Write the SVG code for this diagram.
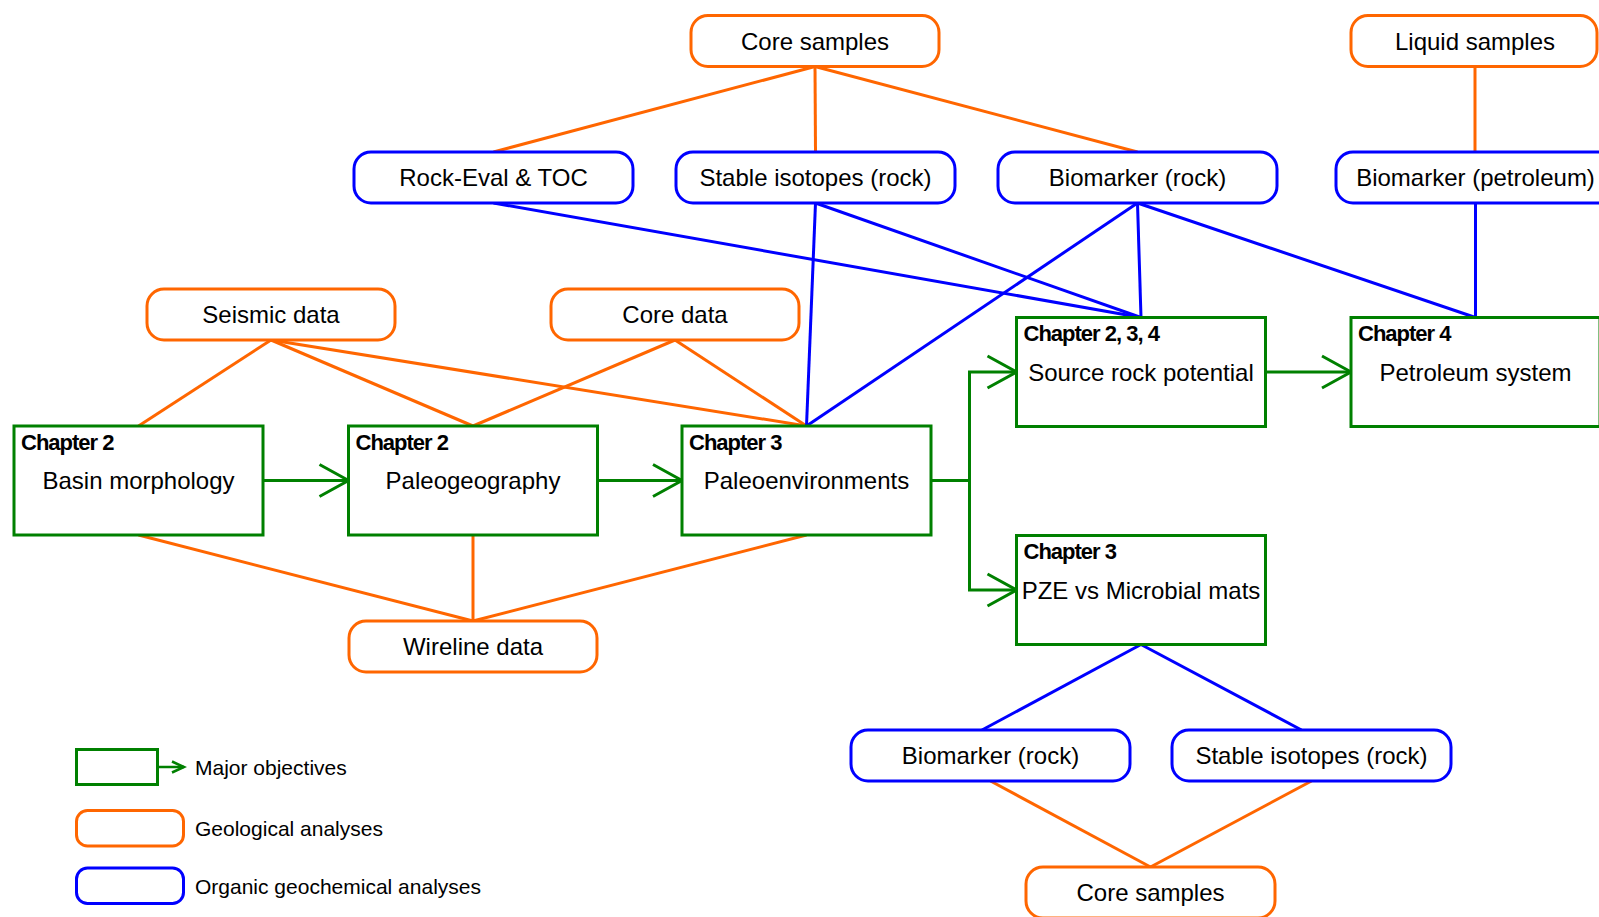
<svg xmlns="http://www.w3.org/2000/svg" width="1599" height="917" viewBox="0 0 1599 917">
<style>
.geo{fill:#fff;stroke:#FF6600;stroke-width:3}
.org{fill:#fff;stroke:#0000FF;stroke-width:3}
.obj{fill:#fff;stroke:#008000;stroke-width:3}
.lo{stroke:#FF6600;stroke-width:3;fill:none}
.lb{stroke:#0000FF;stroke-width:3;fill:none}
.lg{stroke:#008000;stroke-width:3;fill:none}
text{font-family:"Liberation Sans",Arial,sans-serif;fill:#000}
.t{font-size:24px;text-anchor:middle}
.ch{font-size:22px;font-weight:bold;letter-spacing:-1px}
.lt{font-size:21px}
</style>
<defs>
<marker id="av" markerUnits="userSpaceOnUse" markerWidth="34" markerHeight="38" viewBox="0 0 34 38" refX="30" refY="19" orient="auto" overflow="visible">
<path d="M1,3 L30,19 L1,35" fill="none" stroke="#008000" stroke-width="3"/>
</marker>
<marker id="avs" markerUnits="userSpaceOnUse" markerWidth="16" markerHeight="16" viewBox="0 0 16 16" refX="14" refY="8" orient="auto" overflow="visible">
<path d="M2,2.5 L14,8 L2,13.5" fill="none" stroke="#008000" stroke-width="2.5"/>
</marker>
</defs>
<rect width="1599" height="917" fill="#fff"/>
<g id="connectors">
<line class="lo" x1="815" y1="66.5" x2="493.5" y2="152"/>
<line class="lo" x1="815" y1="66.5" x2="815.5" y2="152"/>
<line class="lo" x1="815" y1="66.5" x2="1137.5" y2="152"/>
<line class="lo" x1="1475" y1="66.5" x2="1475" y2="152"/>
<line class="lo" x1="271" y1="340" x2="138.5" y2="426"/>
<line class="lo" x1="271" y1="340" x2="473" y2="426"/>
<line class="lo" x1="271" y1="340" x2="806.5" y2="426"/>
<line class="lo" x1="675" y1="340" x2="473" y2="426"/>
<line class="lo" x1="675" y1="340" x2="806.5" y2="426"/>
<line class="lo" x1="138.5" y1="535" x2="473" y2="621"/>
<line class="lo" x1="473" y1="535" x2="473" y2="621"/>
<line class="lo" x1="806.5" y1="535" x2="473" y2="621"/>
<line class="lo" x1="990.5" y1="781" x2="1150.5" y2="867"/>
<line class="lo" x1="1311.5" y1="781" x2="1150.5" y2="867"/>
<line class="lb" x1="493.5" y1="203" x2="1141" y2="317.5"/>
<line class="lb" x1="815.5" y1="203" x2="806.5" y2="426"/>
<line class="lb" x1="815.5" y1="203" x2="1141" y2="317.5"/>
<line class="lb" x1="1137.5" y1="203" x2="806.5" y2="426"/>
<line class="lb" x1="1137.5" y1="203" x2="1141" y2="317.5"/>
<line class="lb" x1="1137.5" y1="203" x2="1475.5" y2="317.5"/>
<line class="lb" x1="1475.5" y1="203" x2="1475.5" y2="317.5"/>
<line class="lb" x1="1141" y1="644.5" x2="982" y2="730"/>
<line class="lb" x1="1141" y1="644.5" x2="1301.5" y2="730"/>
<line class="lg" x1="263" y1="480.5" x2="348.5" y2="480.5" marker-end="url(#av)"/>
<line class="lg" x1="597.5" y1="480.5" x2="682" y2="480.5" marker-end="url(#av)"/>
<path class="lg" d="M931,480.5 H969.5 V372 H1016.5" marker-end="url(#av)"/>
<path class="lg" d="M969.5,480.5 V590 H1016.5" marker-end="url(#av)"/>
<line class="lg" x1="1265.5" y1="372" x2="1351" y2="372" marker-end="url(#av)"/>
</g>
<g id="core-samples-top"><rect class="geo" x="691" y="15.5" width="248" height="51" rx="17"/><text class="t" x="815" y="49.5">Core samples</text></g>
<g id="liquid-samples"><rect class="geo" x="1351" y="15.5" width="246" height="51" rx="17"/><text class="t" x="1475" y="49.5">Liquid samples</text></g>
<g id="rock-eval"><rect class="org" x="354" y="152" width="279" height="51" rx="17"/><text class="t" x="493.5" y="186">Rock-Eval &amp; TOC</text></g>
<g id="stable-isotopes-top"><rect class="org" x="676" y="152" width="279" height="51" rx="17"/><text class="t" x="815.5" y="186">Stable isotopes (rock)</text></g>
<g id="biomarker-rock-top"><rect class="org" x="998" y="152" width="279" height="51" rx="17"/><text class="t" x="1137.5" y="186">Biomarker (rock)</text></g>
<g id="biomarker-petroleum"><rect class="org" x="1336" y="152" width="279" height="51" rx="17"/><text class="t" x="1475.5" y="186">Biomarker (petroleum)</text></g>
<g id="seismic-data"><rect class="geo" x="147" y="289" width="248" height="51" rx="17"/><text class="t" x="271" y="323">Seismic data</text></g>
<g id="core-data"><rect class="geo" x="551" y="289" width="248" height="51" rx="17"/><text class="t" x="675" y="323">Core data</text></g>
<g id="basin-morphology"><rect class="obj" x="14" y="426" width="249" height="109"/><text class="ch" x="21" y="449.5">Chapter 2</text><text class="t" x="138.5" y="489">Basin morphology</text></g>
<g id="paleogeography"><rect class="obj" x="348.5" y="426" width="249" height="109"/><text class="ch" x="355.5" y="449.5">Chapter 2</text><text class="t" x="473" y="489">Paleogeography</text></g>
<g id="paleoenvironments"><rect class="obj" x="682" y="426" width="249" height="109"/><text class="ch" x="689" y="449.5">Chapter 3</text><text class="t" x="806.5" y="489">Paleoenvironments</text></g>
<g id="source-rock-potential"><rect class="obj" x="1016.5" y="317.5" width="249" height="109"/><text class="ch" x="1023.5" y="341">Chapter 2, 3, 4</text><text class="t" x="1141" y="380.5">Source rock potential</text></g>
<g id="petroleum-system"><rect class="obj" x="1351" y="317.5" width="249" height="109"/><text class="ch" x="1358" y="341">Chapter 4</text><text class="t" x="1475.5" y="380.5">Petroleum system</text></g>
<g id="pze-microbial"><rect class="obj" x="1016.5" y="535.5" width="249" height="109"/><text class="ch" x="1023.5" y="559">Chapter 3</text><text class="t" x="1141" y="598.5">PZE vs Microbial mats</text></g>
<g id="wireline-data"><rect class="geo" x="349" y="621" width="248" height="51" rx="17"/><text class="t" x="473" y="655">Wireline data</text></g>
<g id="biomarker-rock-bottom"><rect class="org" x="851" y="730" width="279" height="51" rx="17"/><text class="t" x="990.5" y="764">Biomarker (rock)</text></g>
<g id="stable-isotopes-bottom"><rect class="org" x="1172" y="730" width="279" height="51" rx="17"/><text class="t" x="1311.5" y="764">Stable isotopes (rock)</text></g>
<g id="core-samples-bottom"><rect class="geo" x="1026" y="867" width="249" height="51" rx="17"/><text class="t" x="1150.5" y="901">Core samples</text></g>
<g id="legend">
<rect class="obj" x="76.5" y="749.5" width="81" height="35"/>
<line x1="157.5" y1="767" x2="184" y2="767" stroke="#008000" stroke-width="2.5" marker-end="url(#avs)"/>
<text class="lt" x="195" y="774.5">Major objectives</text>
<rect class="geo" x="76.5" y="810.5" width="107" height="35.5" rx="11"/>
<text class="lt" x="195" y="835.5">Geological analyses</text>
<rect class="org" x="76.5" y="868" width="107" height="35.5" rx="11"/>
<text class="lt" x="195" y="893.5">Organic geochemical analyses</text>
</g>
</svg>
